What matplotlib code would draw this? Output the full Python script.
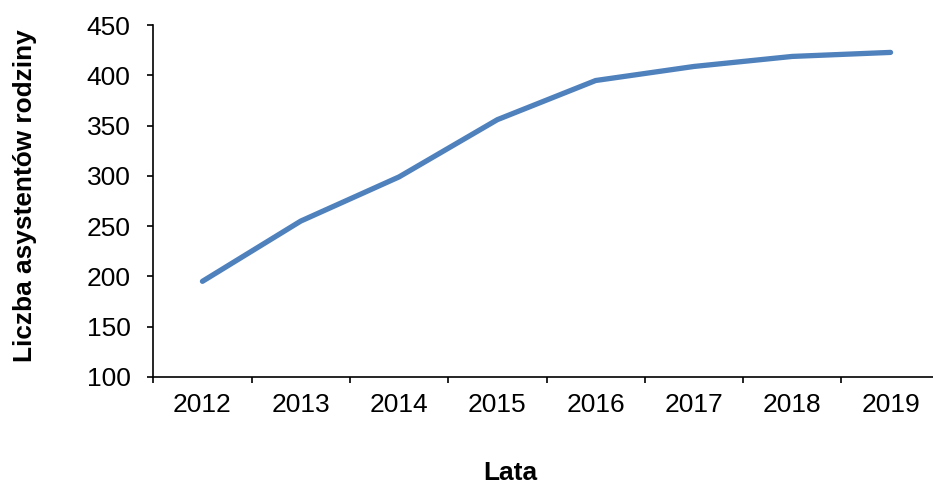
import matplotlib
matplotlib.use("Agg")
import matplotlib.pyplot as plt
from matplotlib.ticker import FixedLocator, NullFormatter, FixedFormatter

plt.rcParams['font.family'] = ['Liberation Sans', 'DejaVu Sans']

# data
years = ["2012", "2013", "2014", "2015", "2016", "2017", "2018", "2019"]
assistants = [195, 255, 299, 356, 395, 409, 419, 423]
y_ticks = [100, 150, 200, 250, 300, 350, 400, 450]

W, H = 933, 484
fig = plt.figure(figsize=(W / 100, H / 100), dpi=100)
ax = fig.add_axes([153.3 / W, 1 - 376.7 / H, 786.4 / W, 351.4 / H])

x = list(range(len(years)))
ax.plot(x, assistants, color="#4F81BD", linewidth=3.8,
        solid_capstyle="round", solid_joinstyle="round")

ax.set_xlim(-0.5, len(years) - 0.5)
ax.set_ylim(100, 450)
ax.set_yticks(y_ticks)

# category boundaries carry the tick marks, labels sit in between
ax.xaxis.set_major_locator(FixedLocator([i - 0.5 for i in range(len(years) + 1)]))
ax.xaxis.set_major_formatter(NullFormatter())
ax.xaxis.set_minor_locator(FixedLocator(x))
ax.xaxis.set_minor_formatter(FixedFormatter(years))
ax.tick_params(axis="x", which="minor", length=0, pad=11.5, labelsize=19)
ax.tick_params(axis="x", which="major", length=4.5, width=1.2, direction="out")
ax.tick_params(axis="y", length=4.5, width=1.2, direction="out", pad=12, labelsize=19)

for side in ("top", "right"):
    ax.spines[side].set_visible(False)
for side in ("left", "bottom"):
    ax.spines[side].set_linewidth(1.2)

fig.text(25 / W, 1 - 196 / H, "Liczba asystentów rodziny", rotation=90,
         ha="center", va="center", fontsize=18.9, fontweight="bold")
fig.text(510.5 / W, 1 - 472.5 / H, "Lata", ha="center", va="center",
         fontsize=18.9, fontweight="bold")

fig.savefig("out.png", dpi=100)
